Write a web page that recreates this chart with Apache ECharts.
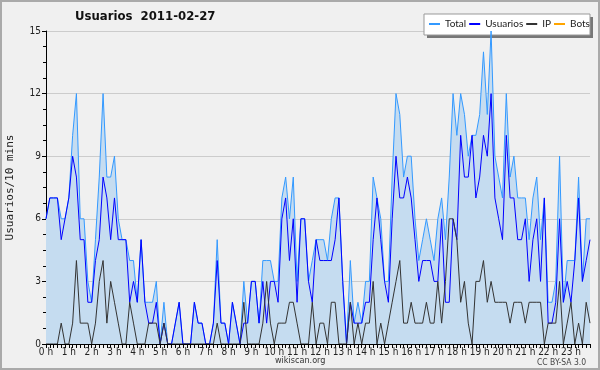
<!DOCTYPE html>
<html><head><meta charset="utf-8">
<script src="https://cdn.jsdelivr.net/npm/echarts@6/dist/echarts.min.js"></script>
<style>html,body{margin:0;padding:0;background:#f0f0f0}#c{width:600px;height:370px}</style>
</head><body><div id="c"></div>
<script>
// 144 ten-minute slots
const categories = [];
for (let h = 0; h < 24; h++) for (let m = 0; m < 60; m += 10) categories.push(h + ':' + (m < 10 ? '0' + m : m));
const hourLabels = [];
for (let h = 0; h < 24; h++) hourLabels.push(h + ' h');
const yTicks = [0, 3, 6, 9, 12, 15];

const totalValues = [
 6,7,7,7,6,6,7,10,12,6, 6,3,2,5,8,12,8,8,9,6, 5,5,4,4,2,5,2,2,2,3,
 0,2,0,0,1,2,0,0,0,2, 1,1,0,0,1,5,1,1,0,2, 1,0,3,1,3,3,1,4,4,4,
 3,3,7,8,6,8,3,6,6,3, 4,5,5,5,4,6,7,7,3,0, 4,1,2,1,3,3,8,7,6,3,
 3,8,12,11,8,9,9,6,4,5, 6,5,4,6,7,5,8,12,10,12, 11,9,10,10,11,14,11,15,9,8,
 7,12,8,9,7,7,7,5,7,8, 5,7,2,2,3,9,2,4,4,4, 8,3,6,6];
const usuariosValues = [
 6,7,7,7,5,6,7,9,8,5, 5,2,2,4,5,8,7,5,7,5, 5,5,2,3,2,5,2,1,1,2,
 0,1,0,0,1,2,0,0,0,2, 1,1,0,0,1,4,1,1,0,2, 1,0,1,1,3,3,1,3,1,3,
 3,2,6,7,4,6,2,6,6,3, 2,5,4,4,4,4,5,7,3,0, 2,1,1,1,2,2,5,7,5,3,
 2,6,9,7,7,8,7,5,3,4, 4,4,3,3,6,2,2,6,5,10, 8,8,10,7,8,10,9,12,7,6,
 5,10,7,7,5,5,6,3,5,6, 3,7,1,1,2,6,2,3,2,4, 7,3,4,5];
const ipValues = [
 0,0,0,0,1,0,0,1,4,1, 1,1,0,1,3,4,1,3,2,1, 0,0,2,1,0,0,0,1,1,1,
 0,1,0,0,0,0,0,0,0,0, 0,0,0,0,0,1,0,0,0,0, 0,0,2,0,0,0,0,1,3,1,
 0,1,1,1,2,2,1,0,0,0, 2,0,1,1,0,2,2,0,0,0, 2,0,1,0,1,1,3,0,1,0,
 1,2,3,4,1,1,2,1,1,1, 2,1,1,3,1,3,6,6,5,2, 3,1,0,3,3,4,2,3,2,2,
 2,2,1,2,2,2,1,2,2,2, 2,0,1,1,1,3,0,1,2,0, 1,0,2,1];
const botsValues = categories.map(() => 0);

const chart = echarts.init(document.getElementById('c'), null, {renderer: 'canvas'});
const lab = {fontFamily: 'DejaVu Sans Condensed', fontSize: 10, color: '#222'};
chart.setOption({
  backgroundColor: '#f0f0f0',
  animation: false,
  title: {text: 'Usuarios  2011-02-27', left: 75, top: 10, padding: 0,
    textStyle: {fontFamily: 'DejaVu Sans Condensed', fontWeight: 'bold', fontSize: 13, color: '#111'}},
  graphic: [
    {type: 'rect', shape: {x: 1, y: 1, width: 598, height: 368}, style: {fill: 'none', stroke: '#aaa', lineWidth: 2}, z: 100},
    {type: 'rect', shape: {x: 427, y: 17, width: 166, height: 21}, style: {fill: '#777'}, z: 1},
    {type: 'rect', shape: {x: 424, y: 14, width: 166, height: 21}, style: {fill: '#fff', stroke: '#999', lineWidth: 1}, z: 2},
    {type: 'text', left: 275, top: 356, style: {text: 'wikiscan.org', fontFamily: 'DejaVu Sans Condensed', fontSize: 9, fill: '#333'}},
    {type: 'text', left: 537, top: 358, style: {text: 'CC BY-SA 3.0', fontFamily: 'DejaVu Sans Condensed', fontSize: 8.5, fill: '#444'}}
  ],
  legend: {left: 429, top: 19, itemWidth: 11, itemHeight: 2, itemGap: 3, icon: 'rect', z: 10, padding: 0,
    textStyle: {fontFamily: 'Lato', fontSize: 10, color: '#222'},
    data: ['Total', 'Usuarios', 'IP', 'Bots']},
  grid: {left: 46, top: 31, width: 544, height: 313, containLabel: false, outerBoundsMode: 'none'},
  xAxis: {type: 'category', data: categories, boundaryGap: false, z: 5,
    axisLine: {lineStyle: {color: '#000', width: 1}},
    axisTick: {interval: 0, length: 4, lineStyle: {color: '#000'}},
    axisLabel: Object.assign({interval: 5, margin: 3, formatter: (v, i) => hourLabels[Math.floor(i / 6)]}, lab),
    splitLine: {show: false}},
  yAxis: {type: 'value', min: 0, max: 15, interval: 3,
    name: 'Usuarios/10 mins', nameLocation: 'middle', nameGap: 30,
    nameTextStyle: {fontFamily: 'DejaVu Sans Mono', fontSize: 11, color: '#222'},
    axisLine: {show: true, lineStyle: {color: '#000'}},
    axisTick: {show: true, length: 4, lineStyle: {color: '#000'}},
    minorTick: {show: true, splitNumber: 4, length: 3, lineStyle: {color: '#000'}},
    axisLabel: Object.assign({margin: 5, formatter: v => yTicks.includes(v) ? String(v) : ''}, lab),
    splitLine: {lineStyle: {color: '#ccc'}}},
  series: [
    {name: 'Total', type: 'line', data: totalValues, symbol: 'none', color: '#3399ff',
      lineStyle: {width: 1, color: '#3399ff'}, areaStyle: {color: '#c5dcf0', opacity: 1}},
    {name: 'Usuarios', type: 'line', data: usuariosValues, symbol: 'none', color: '#0000ff',
      lineStyle: {width: 1, color: '#0000ff'}},
    {name: 'IP', type: 'line', data: ipValues, symbol: 'none', color: '#333',
      lineStyle: {width: 1, color: '#333'}},
    {name: 'Bots', type: 'line', data: botsValues, symbol: 'none', color: '#ffa500', z: 1,
      lineStyle: {width: 1, color: '#ffa500'}}
  ]
});
</script></body></html>
